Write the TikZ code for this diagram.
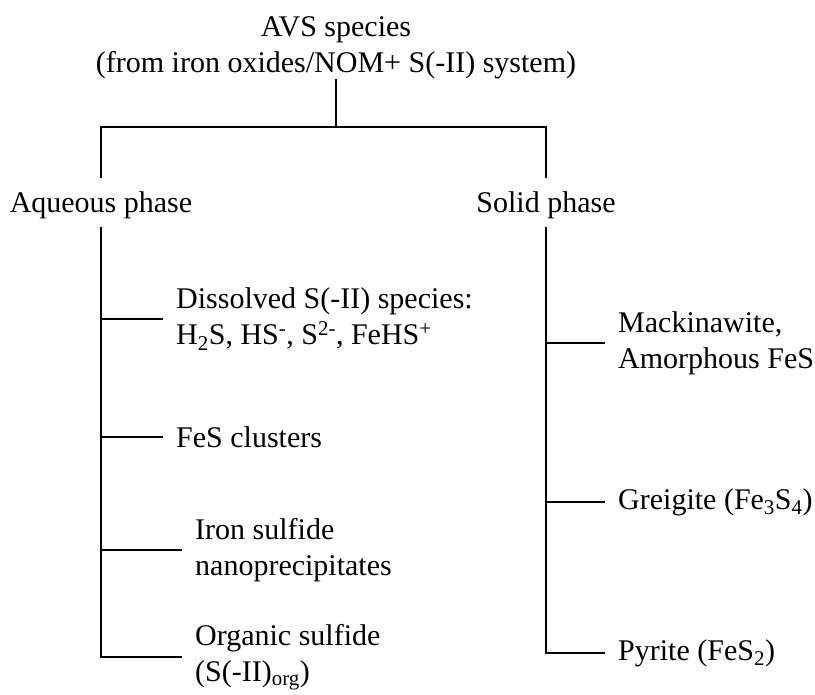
\documentclass[tikz,border=0pt]{standalone}
\usepackage{fontspec}
\setmainfont{Liberation Serif}
\begin{document}
\begin{tikzpicture}[x=1pt,y=-1pt,
  every node/.style={font=\fontsize{30}{36}\selectfont},
  ln/.style={line width=2.4pt, line join=miter},
  leaf/.style={anchor=west, align=left, inner xsep=13pt, inner ysep=0pt},
  phase/.style={anchor=base, inner sep=0pt, text height=35pt, text depth=14pt}]
\useasboundingbox (0,0) rectangle (815,695);

% title
\node[anchor=north, align=center, inner sep=0pt] (top) at (336,16)
  {AVS species\\(from iron oxides/NOM+ S(-II) system)};

% phases
\node[phase] (aq) at (101,213) {Aqueous phase};
\node[phase] (so) at (546,213) {Solid phase};

% junction coordinates
\coordinate (Tj) at (336,127);
\coordinate (Lt) at (101,127);
\coordinate (Rt) at (546,127);
\coordinate (L1) at (101,319);
\coordinate (L2) at (101,437);
\coordinate (L3) at (101,550);
\coordinate (L4) at (101,657);
\coordinate (R1) at (546,343);
\coordinate (R2) at (546,502);
\coordinate (R3) at (546,653);

% aqueous leaves
\node[leaf] (a1) at (163,319) {Dissolved S(-II) species:\\H\textsubscript{2}S, HS\textsuperscript{-}, S\textsuperscript{2-}, FeHS\textsuperscript{+}};
\node[leaf] (a2) at (163,437) {FeS clusters};
\node[leaf] (a3) at (182,550) {Iron sulfide\\nanoprecipitates};
\node[leaf] (a4) at (182,657) {Organic sulfide\\(S(-II)\textsubscript{org})};

% solid leaves
\node[leaf] (s1) at (605,343) {Mackinawite,\\Amorphous FeS};
\node[leaf] (s2) at (605,502) {Greigite (Fe\textsubscript{3}S\textsubscript{4})};
\node[leaf] (s3) at (605,653) {Pyrite (FeS\textsubscript{2})};

% connectors
\draw[ln] (top.south) -- (Tj);
\draw[ln] (aq.north) -- (Lt) -- (Rt) -- (so.north);
\draw[ln] (aq.south) -- (L4) -- (a4.west);
\draw[ln] (L1) -- (a1.west);
\draw[ln] (L2) -- (a2.west);
\draw[ln] (L3) -- (a3.west);
\draw[ln] (so.south) -- (R3) -- (s3.west);
\draw[ln] (R1) -- (s1.west);
\draw[ln] (R2) -- (s2.west);
\end{tikzpicture}
\end{document}
